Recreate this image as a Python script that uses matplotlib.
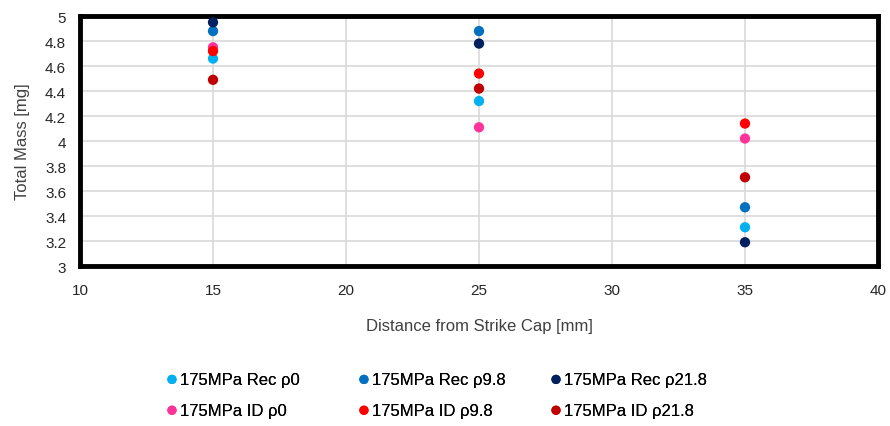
import matplotlib.pyplot as plt

# Sample positions and measured total mass for each series
distance = [15, 25, 35]

rec_p0 = [4.66, 4.32, 3.31]
rec_p98 = [4.88, 4.88, 3.47]
rec_p218 = [4.95, 4.78, 3.19]
id_p0 = [4.75, 4.11, 4.02]
id_p98 = [4.72, 4.54, 4.14]
id_p218 = [4.49, 4.42, 3.71]

labels = ["175MPa Rec ρ0", "175MPa Rec ρ9.8", "175MPa Rec ρ21.8",
          "175MPa ID ρ0", "175MPa ID ρ9.8", "175MPa ID ρ21.8"]
colors = ["#00B0F0", "#0070C0", "#002060", "#FF3399", "#FF0000", "#C00000"]
series = [rec_p0, rec_p98, rec_p218, id_p0, id_p98, id_p218]

plt.rcParams['font.family'] = ['Liberation Sans', 'DejaVu Sans']

fig = plt.figure(figsize=(8.9, 4.27), dpi=100)
ax = fig.add_axes([0.0899, 0.3747, 0.8966, 0.5853])

handles = []
for vals, lab, col in zip(series, labels, colors):
    h = ax.scatter(distance, vals, s=55, color=col, label=lab, zorder=3,
                   edgecolors='none', clip_on=False)
    handles.append(h)

ax.set_xlim(10, 40)
ax.set_ylim(3, 5)
ax.set_xticks(range(10, 41, 5))
ax.set_yticks([3 + 0.2 * i for i in range(11)])
ax.set_yticklabels(["3", "3.2", "3.4", "3.6", "3.8", "4", "4.2", "4.4",
                    "4.6", "4.8", "5"])
ax.grid(True, color="#D9D9D9", linewidth=1.2, zorder=0)
ax.set_axisbelow(True)
ax.tick_params(length=0, labelsize=11, colors="#262626")
ax.tick_params(axis='x', pad=12)
ax.tick_params(axis='y', pad=10)

for sp in ax.spines.values():
    sp.set_linewidth(3.5)
    sp.set_color("black")

ax.set_xlabel("Distance from Strike Cap [mm]", fontsize=12,
              color="#404040", labelpad=15)
ax.set_ylabel("Total Mass [mg]", fontsize=12, color="#404040", labelpad=11)

# one small legend per column so the columns are evenly spaced
col_x = [0.1745, 0.3902, 0.606]
for c, x0 in enumerate(col_x):
    idx = [c, c + 3]
    leg = fig.legend([handles[i] for i in idx], [labels[i] for i in idx],
                     loc="lower left", bbox_to_anchor=(x0, 0.004), ncol=1,
                     frameon=False, fontsize=12, handletextpad=-0.1,
                     markerscale=0.9, labelspacing=0.95,
                     borderaxespad=0.0, handlelength=1.2)
    fig.add_artist(leg)

fig.savefig("out.png", dpi=100)
